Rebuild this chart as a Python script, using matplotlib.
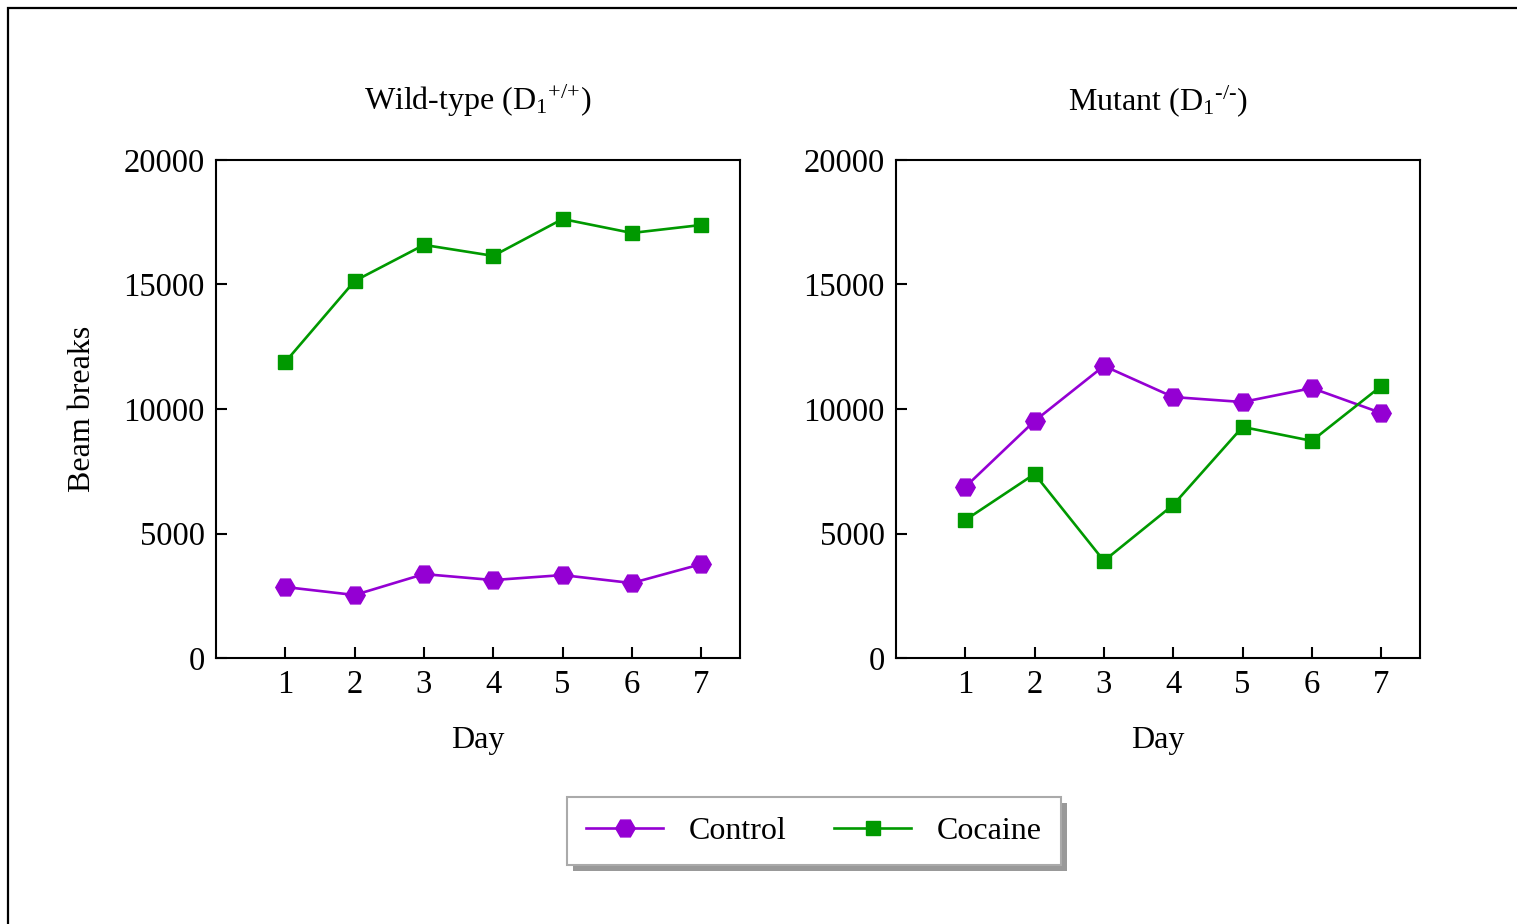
import matplotlib.pyplot as plt
from matplotlib.patches import Rectangle

plt.rcParams['font.family'] = ['Liberation Serif', 'DejaVu Serif']
plt.rcParams['mathtext.fontset'] = 'custom'
plt.rcParams['mathtext.rm'] = 'Liberation Serif'
plt.rcParams['mathtext.it'] = 'Liberation Serif:italic'

days = [1, 2, 3, 4, 5, 6, 7]
wt_control = [2850, 2530, 3370, 3130, 3330, 3010, 3770]
wt_cocaine = [11890, 15140, 16590, 16150, 17630, 17070, 17390]
mut_control = [6870, 9520, 11730, 10480, 10280, 10840, 9840]
mut_cocaine = [5540, 7390, 3900, 6150, 9280, 8720, 10920]

titles = [r'Wild-type (D$_1$$^{\text{+/+}}$)', r'Mutant (D$_1$$^{\text{-/-}}$)']
purple = '#9400d3'
green = '#009900'

fig = plt.figure(figsize=(15.17, 9.24), dpi=100)

# outer frame (cut at right and bottom like the source)
fig.patches.append(Rectangle((8 / 1517, -0.1), 1.2, 1.1 - 8 / 924, transform=fig.transFigure,
                             fill=False, edgecolor='black', linewidth=1.6, zorder=0))

axes = [fig.add_axes([216 / 1517, 1 - 658 / 924, 524 / 1517, 498 / 924]),
        fig.add_axes([896 / 1517, 1 - 658 / 924, 524 / 1517, 498 / 924])]
series = [(wt_control, wt_cocaine), (mut_control, mut_cocaine)]

for ax, title, (ctrl, coc) in zip(axes, titles, series):
    l1, = ax.plot(days, ctrl, color=purple, marker='H', markersize=14, linewidth=1.9, label='Control')
    l2, = ax.plot(days, coc, color=green, marker='s', markersize=10, linewidth=1.9, label='Cocaine')
    ax.set_xlim(0, 7.56)
    ax.set_ylim(0, 20000)
    ax.set_xticks(days)
    ax.set_yticks([0, 5000, 10000, 15000, 20000])
    ax.tick_params(direction='in', length=8, width=1.5, labelsize=23.5, top=False, right=False, pad=8)
    for s in ax.spines.values():
        s.set_linewidth(1.5)
    ax.set_title(title, fontsize=23, pad=36)
    ax.set_xlabel('Day', fontsize=23, labelpad=19)

axes[0].set_ylabel('Beam breaks', fontsize=23, labelpad=19)

leg = fig.legend([l1, l2], ['Control', 'Cocaine'], ncol=2, loc='center',
                 bbox_to_anchor=(814 / 1517, 1 - 831 / 924), fontsize=23, fancybox=False,
                 handlelength=2.4, columnspacing=1.5, handletextpad=0.8, borderpad=0.62,
                 borderaxespad=0, edgecolor='#aaaaaa', framealpha=1)
leg.get_frame().set_linewidth(1.5)

fig.canvas.draw()
bb = leg.get_window_extent().transformed(fig.transFigure.inverted())
fig.patches.append(Rectangle((bb.x0 + 6 / 1517, bb.y0 - 6 / 924), bb.width, bb.height,
                             transform=fig.transFigure, facecolor='#999999', edgecolor='none', zorder=1))
leg.set_zorder(5)

fig.savefig('out.png', dpi=100)
